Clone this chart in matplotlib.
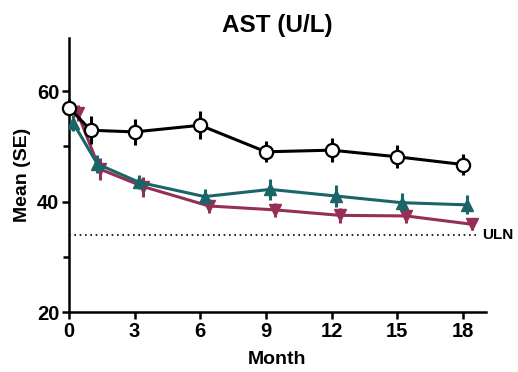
import matplotlib.pyplot as plt

plt.rcParams['font.family'] = ['Liberation Sans', 'DejaVu Sans']
plt.rcParams['font.weight'] = 'bold'

# Daten
month_a = [0, 1, 3, 6, 9, 12, 15, 18]
mean_a = [57.0, 52.9, 52.6, 53.8, 49.0, 49.3, 48.1, 46.7]
se_a = [1.5, 2.5, 2.3, 2.5, 1.9, 2.2, 2.1, 1.9]

month_b = [0.2, 1.3, 3.2, 6.2, 9.2, 12.2, 15.2, 18.2]
mean_b = [54.2, 46.8, 43.5, 40.9, 42.2, 41.0, 39.8, 39.4]
se_b = [1.5, 1.6, 1.3, 1.3, 1.9, 2.0, 1.7, 1.7]

month_c = [0.4, 1.4, 3.4, 6.4, 9.4, 12.4, 15.4, 18.4]
mean_c = [56.0, 45.9, 42.7, 39.2, 38.5, 37.5, 37.4, 35.9]
se_c = [1.5, 2.0, 1.8, 1.3, 1.3, 1.3, 1.3, 1.1]

uln = 34
teal = '#1b6468'
maroon = '#962f55'

fig = plt.figure(figsize=(5.18, 3.72), dpi=100)
ax = fig.add_axes([0.133, 0.161, 0.805, 0.737])

ax.plot([0, 18.6], [uln, uln], color='black', linestyle=(0, (1, 2.2)), linewidth=1.2)
ax.text(18.9, uln, 'ULN', fontsize=11, fontweight='bold', va='center', ha='left')

ax.errorbar(month_c, mean_c, yerr=se_c, color=maroon, marker='v', markersize=9,
            linewidth=2.2, elinewidth=2.2, capsize=0, zorder=3)
ax.errorbar(month_b, mean_b, yerr=se_b, color=teal, marker='^', markersize=9,
            linewidth=2.2, elinewidth=2.2, capsize=0, zorder=4)
ax.errorbar(month_a, mean_a, yerr=se_a, color='black', marker='o', markersize=9.5,
            markerfacecolor='white', markeredgewidth=1.6,
            linewidth=2.2, elinewidth=2.2, capsize=0, zorder=5, clip_on=False)

ax.set_xlim(0, 19.05)
ax.set_ylim(20, 69.6)
ax.set_xticks([0, 3, 6, 9, 12, 15, 18])
ax.set_yticks([20, 40, 60])
ax.set_yticks([30, 50], minor=True)
ax.spines['top'].set_visible(False)
ax.spines['right'].set_visible(False)
for s in ['left', 'bottom']:
    ax.spines[s].set_linewidth(1.8)
ax.tick_params(axis='both', which='major', length=5, width=1.8, labelsize=14.5, pad=2)
ax.tick_params(axis='y', which='minor', length=4, width=1.8)
for lab in ax.get_xticklabels() + ax.get_yticklabels():
    lab.set_fontweight('bold')

ax.set_title('AST (U/L)', fontsize=17.5, fontweight='bold', pad=4)
ax.set_xlabel('Month', fontsize=14, fontweight='bold', labelpad=7)
ax.set_ylabel('Mean (SE)', fontsize=14, fontweight='bold', labelpad=4)

fig.savefig('out.png', dpi=100)
